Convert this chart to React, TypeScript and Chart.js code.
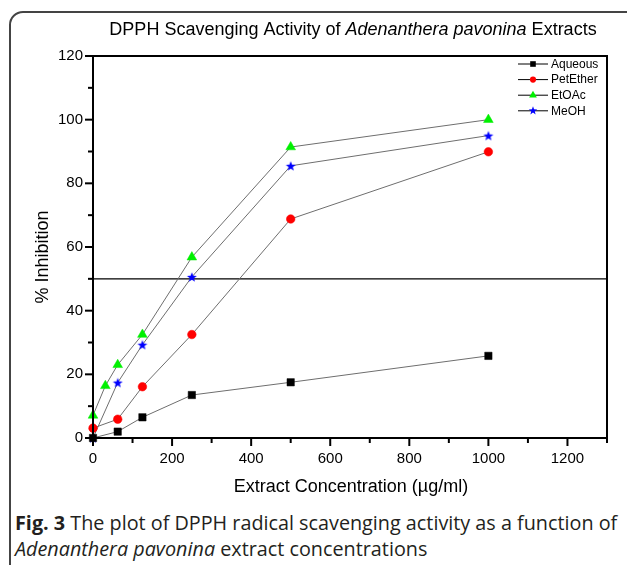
import React, { useEffect, useRef } from 'react';
import { Chart, registerables } from 'chart.js';

Chart.register(...registerables);

// ---- data ----
const concentrations = [0, 62.5, 125, 250, 500, 1000];
const concentrationsEtOAc = [0, 31.25, 62.5, 125, 250, 500, 1000];
const aqueous = [0, 2.0, 6.5, 13.5, 17.5, 25.8];
const petEther = [3.1, 5.9, 16.1, 32.5, 68.8, 89.9];
const etOAc = [7.1, 16.4, 23.0, 32.5, 56.8, 91.4, 100.0];
const meOH = [0, 17.4, 29.3, 50.6, 85.5, 95.0];
const seriesNames = ['Aqueous', 'PetEther', 'EtOAc', 'MeOH'];
const xTickLabels = ['0', '200', '400', '600', '800', '1000', '1200'];
const yTickLabels = ['0', '20', '40', '60', '80', '100', '120'];
const threshold = 50;

const FONT = '"Liberation Sans", Arial, sans-serif';
const colors = ['#000000', '#ff0000', '#00f000', '#0000ff'];
const markerStyles = ['rect', 'circle', 'triangle', 'star'];

function starPath(ctx: CanvasRenderingContext2D, cx: number, cy: number, ro: number, ri: number) {
  ctx.beginPath();
  for (let i = 0; i < 10; i++) {
    const r = i % 2 === 0 ? ro : ri;
    const a = -Math.PI / 2 + (i * Math.PI) / 5;
    const px = cx + r * Math.cos(a);
    const py = cy + r * Math.sin(a);
    if (i === 0) ctx.moveTo(px, py);
    else ctx.lineTo(px, py);
  }
  ctx.closePath();
}

function makeStar(color: string, size: number, ro: number, ri: number) {
  const c = document.createElement('canvas');
  c.width = size;
  c.height = size;
  const g = c.getContext('2d')!;
  g.fillStyle = color;
  starPath(g, size / 2, size / 2 + 0.5, ro, ri);
  g.fill();
  return c;
}

function drawMarker(ctx: CanvasRenderingContext2D, style: string, color: string, x: number, y: number, s: number) {
  ctx.save();
  ctx.fillStyle = color;
  ctx.beginPath();
  if (style === 'rect') {
    ctx.rect(x - s, y - s, 2 * s, 2 * s);
    ctx.fill();
  } else if (style === 'circle') {
    ctx.arc(x, y, s * 1.1, 0, Math.PI * 2);
    ctx.fill();
  } else if (style === 'triangle') {
    const r = s * 1.6;
    ctx.moveTo(x, y - r);
    ctx.lineTo(x + r * 0.866, y + r * 0.5);
    ctx.lineTo(x - r * 0.866, y + r * 0.5);
    ctx.closePath();
    ctx.fill();
  } else {
    starPath(ctx, x, y, s * 1.6, s * 0.65);
    ctx.fill();
  }
  ctx.restore();
}

const framePlugin = {
  id: 'framePlugin',
  beforeDatasetsDraw(chart: any) {
    const { ctx, chartArea: a, scales } = chart;
    const yy = scales.y.getPixelForValue(threshold);
    ctx.save();
    ctx.strokeStyle = '#000';
    ctx.lineWidth = 1.3;
    ctx.beginPath();
    ctx.moveTo(a.left, yy);
    ctx.lineTo(a.right, yy);
    ctx.stroke();
    ctx.restore();
  },
  afterDatasetsDraw(chart: any) {
    const { ctx, chartArea: a, scales } = chart;
    ctx.save();
    ctx.strokeStyle = '#000';
    ctx.lineWidth = 2;
    ctx.strokeRect(a.left, a.top, a.right - a.left, a.bottom - a.top);
    // y ticks
    scales.y.ticks.forEach((t: any) => {
      const py = scales.y.getPixelForValue(t.value);
      const major = yTickLabels.includes(String(t.value));
      ctx.beginPath();
      ctx.moveTo(a.left, py);
      ctx.lineTo(a.left - (major ? 8 : 5), py);
      ctx.stroke();
    });
    scales.x.ticks.forEach((t: any) => {
      const px = scales.x.getPixelForValue(t.value);
      const major = xTickLabels.includes(String(t.value));
      ctx.beginPath();
      ctx.moveTo(px, a.bottom);
      ctx.lineTo(px, a.bottom + (major ? 8 : 5));
      ctx.stroke();
    });

    // title with italic species name
    ctx.fillStyle = '#000';
    ctx.textBaseline = 'alphabetic';
    const parts: [string, boolean][] = [
      ['DPPH Scavenging Activity of ', false],
      ['Adenanthera pavonina', true],
      [' Extracts', false],
    ];
    let total = 0;
    parts.forEach(([s, it]) => {
      ctx.font = `${it ? 'italic ' : ''}18px ${FONT}`;
      total += ctx.measureText(s).width;
    });
    let tx = 353 - total / 2;
    ctx.textAlign = 'left';
    parts.forEach(([s, it]) => {
      ctx.font = `${it ? 'italic ' : ''}18px ${FONT}`;
      ctx.fillText(s, tx, 35);
      tx += ctx.measureText(s).width;
    });

    // axis titles
    ctx.font = `18px ${FONT}`;
    ctx.textAlign = 'center';
    ctx.textBaseline = 'middle';
    ctx.fillText('Extract Concentration (\u00b5g/ml)', (a.left + a.right) / 2 + 1, 487);
    ctx.save();
    ctx.translate(43, 257);
    ctx.rotate(-Math.PI / 2);
    ctx.fillText('% Inhibition', 0, 0);
    ctx.restore();

    // legend
    ctx.font = `12px ${FONT}`;
    ctx.textAlign = 'left';
    ctx.textBaseline = 'middle';
    seriesNames.forEach((name, i) => {
      const ly = 64 + i * 15.6;
      ctx.strokeStyle = '#000';
      ctx.lineWidth = 1;
      ctx.beginPath();
      ctx.moveTo(518, ly);
      ctx.lineTo(548, ly);
      ctx.stroke();
      drawMarker(ctx, markerStyles[i], colors[i], 533, ly, 2.8);
      ctx.fillStyle = '#000';
      ctx.fillText(name, 551, ly + 0.5);
    });
    ctx.restore();
  },
};

export default function App() {
  const ref = useRef<HTMLCanvasElement | null>(null);

  useEffect(() => {
    const canvas = ref.current;
    if (!canvas) return;
    const starImg = makeStar(colors[3], 12, 5.2, 2.2);
    const lineColor = '#6e6e6e';
    const mk = (xs: number[], ys: number[]) => xs.map((x, i) => ({ x, y: ys[i] }));
    const chart = new Chart(canvas, {
      type: 'scatter',
      data: {
        datasets: [
          {
            label: seriesNames[0],
            data: mk(concentrations, aqueous),
            showLine: true,
            borderColor: lineColor,
            borderWidth: 1,
            pointStyle: 'rect',
            pointRadius: 5.2,
            pointBackgroundColor: colors[0],
            pointBorderColor: colors[0],
            pointBorderWidth: 0.5,
            clip: false,
          },
          {
            label: seriesNames[1],
            data: mk(concentrations, petEther),
            showLine: true,
            borderColor: lineColor,
            borderWidth: 1,
            pointStyle: 'circle',
            pointRadius: 4.3,
            pointBackgroundColor: colors[1],
            pointBorderColor: colors[1],
            pointBorderWidth: 0.5,
            clip: false,
          },
          {
            label: seriesNames[2],
            data: mk(concentrationsEtOAc, etOAc),
            showLine: true,
            borderColor: lineColor,
            borderWidth: 1,
            pointStyle: 'triangle',
            pointRadius: 5.6,
            pointBackgroundColor: colors[2],
            pointBorderColor: colors[2],
            pointBorderWidth: 0.5,
            clip: false,
          },
          {
            label: seriesNames[3],
            data: mk(concentrations, meOH),
            showLine: true,
            borderColor: lineColor,
            borderWidth: 1,
            pointStyle: starImg as any,
            pointRadius: 5,
            pointBackgroundColor: colors[3],
            pointBorderColor: colors[3],
            clip: false,
          },
        ],
      },
      options: {
        animation: false,
        responsive: false,
        devicePixelRatio: 1,
        layout: { padding: { top: 56, right: 20, left: 0, bottom: 0 } },
        plugins: {
          legend: { display: false },
          title: { display: false },
          tooltip: { enabled: false },
        },
        scales: {
          x: {
            type: 'linear',
            min: 0,
            max: 1300,
            grid: { display: false, drawTicks: false },
            border: { display: false },
            ticks: {
              stepSize: 100,
              padding: 12,
              maxRotation: 0,
              autoSkip: false,
              color: '#000',
              font: { family: FONT, size: 15 },
              callback: (v: any) => (xTickLabels.includes(String(v)) ? String(v) : ''),
            },
            afterFit: (s: any) => {
              s.height = 62;
            },
          },
          y: {
            type: 'linear',
            min: 0,
            max: 120,
            grid: { display: false, drawTicks: false },
            border: { display: false },
            ticks: {
              stepSize: 10,
              padding: 10,
              autoSkip: false,
              color: '#000',
              font: { family: FONT, size: 15 },
              callback: (v: any) => (yTickLabels.includes(String(v)) ? String(v) : ''),
            },
            afterFit: (s: any) => {
              s.width = 93;
            },
          },
        },
      },
      plugins: [framePlugin],
    });
    return () => chart.destroy();
  }, []);

  const captionStyle: React.CSSProperties = {
    position: 'absolute',
    left: 15,
    fontFamily: '"Open Sans", "Noto Sans", sans-serif',
    fontSize: 19.8,
    lineHeight: '26px',
    color: '#231f20',
    whiteSpace: 'nowrap',
  };

  return (
    <div
      style={{
        position: 'fixed',
        left: 0,
        top: 0,
        width: 627,
        height: 565,
        overflow: 'hidden',
        background: '#fff',
      }}
    >
      <div
        style={{
          position: 'absolute',
          left: 9,
          top: 11,
          width: 640,
          height: 600,
          border: '2px solid #444',
          borderRadius: 14,
          boxSizing: 'border-box',
        }}
      />
      <canvas
        ref={ref}
        width={627}
        height={500}
        style={{ position: 'absolute', left: 0, top: 0, width: 627, height: 500 }}
      />
      <div style={{ ...captionStyle, top: 510 }}>
        <b>Fig. 3</b> The plot of DPPH radical scavenging activity as a function of
      </div>
      <div style={{ ...captionStyle, top: 536 }}>
        <i>Adenanthera pavonina</i> extract concentrations
      </div>
    </div>
  );
}
